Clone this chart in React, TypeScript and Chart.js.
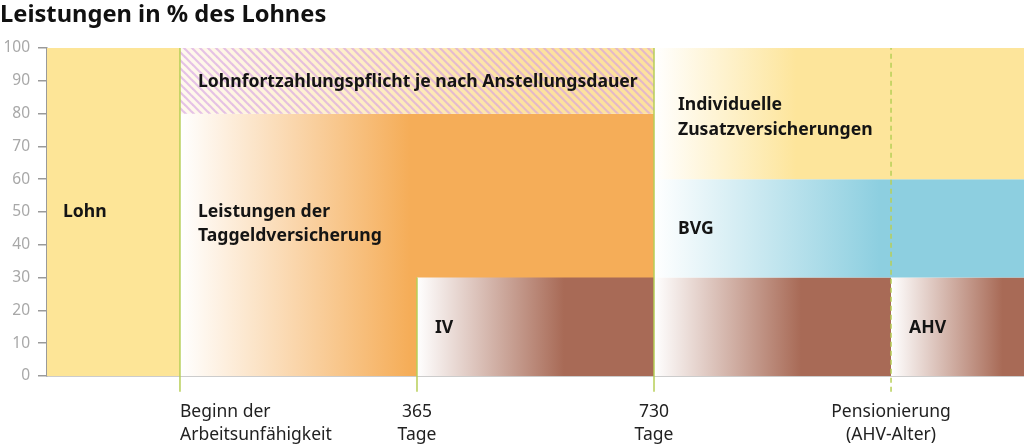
import React, { useEffect, useRef } from 'react';
import { Chart, registerables } from 'chart.js';

Chart.register(...registerables);

// ---------- data ----------
const milestoneX = [0, 1, 2, 3];
const milestoneLabels = [
  ['Beginn der', 'Arbeitsunfähigkeit'],
  ['365', 'Tage'],
  ['730', 'Tage'],
  ['Pensionierung', '(AHV-Alter)'],
];
const X_MIN = -0.561;
const X_MAX = 3.561;
const Y_MIN = 0;
const Y_MAX = 100;
const Y_STEP = 10;

// benefit blocks (x in milestone units, y in % of salary)
const blockNames = ['Lohn', 'Lohnfortzahlung', 'Taggeld', 'IV', 'Zusatz', 'BVG', 'Rente', 'AHV'];
const blockFrom = [X_MIN, 0, 0, 1, 2, 2, 2, 3];
const blockTo = [0, 2, 2, 2, X_MAX, X_MAX, 3, X_MAX];
const blockLow = [0, 80, 0, 0, 60, 30, 0, 0];
const blockHigh = [100, 100, 80, 30, 100, 60, 30, 30];

// milestone marker lines
const markerX = [0, 1, 2, 3];
const markerTop = [100, 30, 100, 100];
const markerDashed = [false, false, false, true];

// texts inside the chart
const labelText = [
  'Lohn',
  'Lohnfortzahlungspflicht je nach Anstellungsdauer',
  'Leistungen der',
  'Taggeldversicherung',
  'IV',
  'Individuelle',
  'Zusatzversicherungen',
  'BVG',
  'AHV',
];

// ---------- styles / layout ----------
const FONT = "'Noto Sans', sans-serif";
const labelPos = [
  [-0.494, 50],
  [0.076, 89.6],
  [0.076, 50],
  [0.076, 42.7],
  [1.076, 14.6],
  [2.101, 82.6],
  [2.101, 75],
  [2.101, 44.8],
  [3.076, 14.6],
];
const blockStyle = [
  { color: '#fde597', start: '#fde597', fadeTo: null as number | null, order: 3 },
  { color: '#fde29e', start: '#fff9ee', fadeTo: 1.5, order: 3 },
  { color: '#f5ad58', start: '#ffffff', fadeTo: 0.97, order: 4 },
  { color: '#a86a56', start: '#ffffff', fadeTo: 1.62, order: 3 },
  { color: '#fde59b', start: '#ffffff', fadeTo: 2.6, order: 3 },
  { color: '#8dcfe0', start: '#ffffff', fadeTo: 2.95, order: 3 },
  { color: '#a86a56', start: '#ffffff', fadeTo: 2.62, order: 3 },
  { color: '#a86a56', start: '#ffffff', fadeTo: 3.47, order: 3 },
];
const HATCH_BLOCK = 1;
const MARKER_BOTTOM = -4.8;
const MARKER_COLOR = '#b7cf57';

let hatchPattern: CanvasPattern | null = null;
function getHatch(ctx: CanvasRenderingContext2D) {
  if (hatchPattern) return hatchPattern;
  const p = 8;
  const c = document.createElement('canvas');
  c.width = p;
  c.height = p;
  const g = c.getContext('2d')!;
  g.strokeStyle = 'rgba(212,158,226,0.6)';
  g.lineWidth = 2.2;
  for (const k of [-1, 0, 1]) {
    g.beginPath();
    g.moveTo(k * p - 1, -1);
    g.lineTo(k * p + p + 1, p + 1);
    g.stroke();
  }
  hatchPattern = ctx.createPattern(c, 'repeat');
  return hatchPattern;
}

function fadeFill(i: number) {
  return (context: any) => {
    const chart = context.chart;
    const st = blockStyle[i];
    if (st.fadeTo === null) return st.color;
    const { chartArea, scales } = chart;
    if (!chartArea || !scales.x) return st.color;
    const x0 = scales.x.getPixelForValue(blockFrom[i]);
    const x1 = scales.x.getPixelForValue(st.fadeTo);
    const g = chart.ctx.createLinearGradient(x0, 0, x1, 0);
    g.addColorStop(0, st.start);
    g.addColorStop(1, st.color);
    return g;
  };
}

const labelPlugin = {
  id: 'blockLabels',
  afterDatasetsDraw(chart: any) {
    const { ctx, scales } = chart;
    ctx.save();
    ctx.font = `bold 17.6px ${FONT}`;
    ctx.fillStyle = '#141414';
    ctx.textBaseline = 'middle';
    ctx.textAlign = 'left';
    labelText.forEach((t, i) => {
      ctx.fillText(t, scales.x.getPixelForValue(labelPos[i][0]), scales.y.getPixelForValue(labelPos[i][1]));
    });
    ctx.restore();
  },
};

export default function App() {
  const ref = useRef<HTMLCanvasElement>(null);

  useEffect(() => {
    document.body.style.margin = '0';
    Chart.defaults.font.family = FONT;

    const datasets: any[] = [];
    blockNames.forEach((name, i) => {
      datasets.push({
        label: name,
        data: [
          { x: blockFrom[i], y: blockHigh[i] },
          { x: blockTo[i], y: blockHigh[i] },
        ],
        fill: { value: blockLow[i] },
        backgroundColor: fadeFill(i),
        borderWidth: 0,
        pointRadius: 0,
        order: blockStyle[i].order,
      });
    });
    // hatch overlay
    datasets.push({
      label: 'hatch',
      data: [
        { x: blockFrom[HATCH_BLOCK], y: blockHigh[HATCH_BLOCK] },
        { x: blockTo[HATCH_BLOCK], y: blockHigh[HATCH_BLOCK] },
      ],
      fill: { value: blockLow[HATCH_BLOCK] },
      backgroundColor: (c: any) => getHatch(c.chart.ctx),
      borderWidth: 0,
      pointRadius: 0,
      order: 1,
    });
    markerX.forEach((mx, i) => {
      datasets.push({
        label: 'marker' + i,
        data: [
          { x: mx, y: MARKER_BOTTOM },
          { x: mx, y: markerTop[i] },
        ],
        fill: false,
        borderColor: MARKER_COLOR,
        borderWidth: 1.5,
        borderDash: markerDashed[i] ? [5, 4] : [],
        pointRadius: 0,
        clip: false,
        order: 0,
      });
    });

    const chart = new Chart(ref.current!, {
      type: 'line',
      data: { datasets },
      plugins: [labelPlugin],
      options: {
        animation: false,
        responsive: false,
        layout: { padding: 0 },
        plugins: {
          legend: { display: false },
          tooltip: { enabled: false },
          title: {
            display: true,
            text: 'Leistungen in % des Lohnes',
            align: 'start',
            color: '#111',
            font: { family: FONT, size: 23.7, weight: 'bold', lineHeight: 1.2 },
            padding: { top: 1, bottom: 18.6 },
          },
        },
        scales: {
          x: {
            type: 'linear',
            min: X_MIN,
            max: X_MAX,
            z: 1,
            afterBuildTicks: (s: any) => {
              s.ticks = [...milestoneX, X_MAX].map((v) => ({ value: v }));
            },
            afterFit: (s: any) => {
              s.height = 68;
            },
            ticks: {
              autoSkip: false,
              maxRotation: 0,
              minRotation: 0,
              align: 'inner',
              padding: 0,
              color: '#222',
              font: { family: FONT, size: 17.5, lineHeight: 1.32 },
              callback: (_v: any, i: number) => milestoneLabels[i] ?? '',
            },
            grid: {
              display: true,
              drawOnChartArea: false,
              drawTicks: true,
              tickLength: 24,
              tickColor: 'rgba(0,0,0,0)',
              color: 'rgba(0,0,0,0)',
            },
            border: { display: true, color: '#9a9a9a', width: 1.5 },
          },
          y: {
            min: Y_MIN,
            max: Y_MAX,
            z: 1,
            afterFit: (s: any) => {
              s.width = 47;
            },
            ticks: {
              stepSize: Y_STEP,
              color: '#a8a8a8',
              padding: 8,
              font: { family: FONT, size: 15.5 },
            },
            grid: { drawOnChartArea: false, drawTicks: true, tickLength: 9, color: '#9a9a9a', lineWidth: 1.5 },
            border: { display: true, color: '#9a9a9a', width: 1.5 },
          },
        },
      },
    } as any);

    return () => chart.destroy();
  }, []);

  return (
    <div style={{ width: 1024, height: 444 }}>
      <canvas ref={ref} width={1024} height={444} style={{ display: 'block' }} />
    </div>
  );
}
